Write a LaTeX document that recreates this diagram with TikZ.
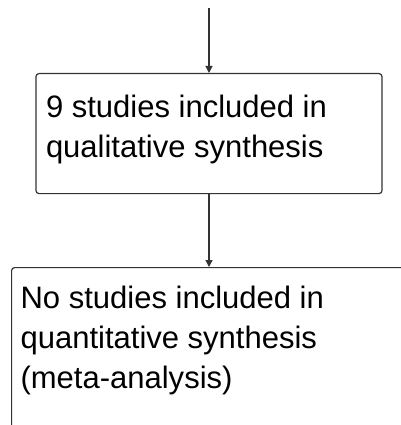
\documentclass[tikz,border=0pt]{standalone}
\usepackage{fontspec}
\setmainfont{Liberation Sans}
\usetikzlibrary{positioning, arrows.meta}

\tikzset{
    box/.style={draw=black!80, line width=1.2pt, rounded corners=3pt, fill=white,
        align=left, font=\fontsize{31}{40}\selectfont},
    link/.style={draw=black!80, line width=1.2pt, -{Triangle[length=7pt, width=7pt]}}
}

\begin{document}
\begin{tikzpicture}[x=1pt, y=1pt]
        \useasboundingbox (0, 0) rectangle (400, -425);
        \coordinate (in) at (209, -8);
        \node[box, anchor=north, inner xsep=10pt, inner ysep=21.5pt] (qual) at (209, -73) {\parbox[t][77pt][t]{326pt}{9 studies included in\\qualitative synthesis}};
        \node[box, anchor=north west, inner xsep=9pt, inner ysep=18pt] (quant) at (11, -267) {\parbox[t][140pt][t]{380pt}{No studies included in\\quantitative synthesis\\(meta-analysis)}};
        
        \draw[link] (in) -- (qual.north);
        \draw[link] (qual.south) -- (qual.south |- quant.north);
    \end{tikzpicture}
\end{document}
